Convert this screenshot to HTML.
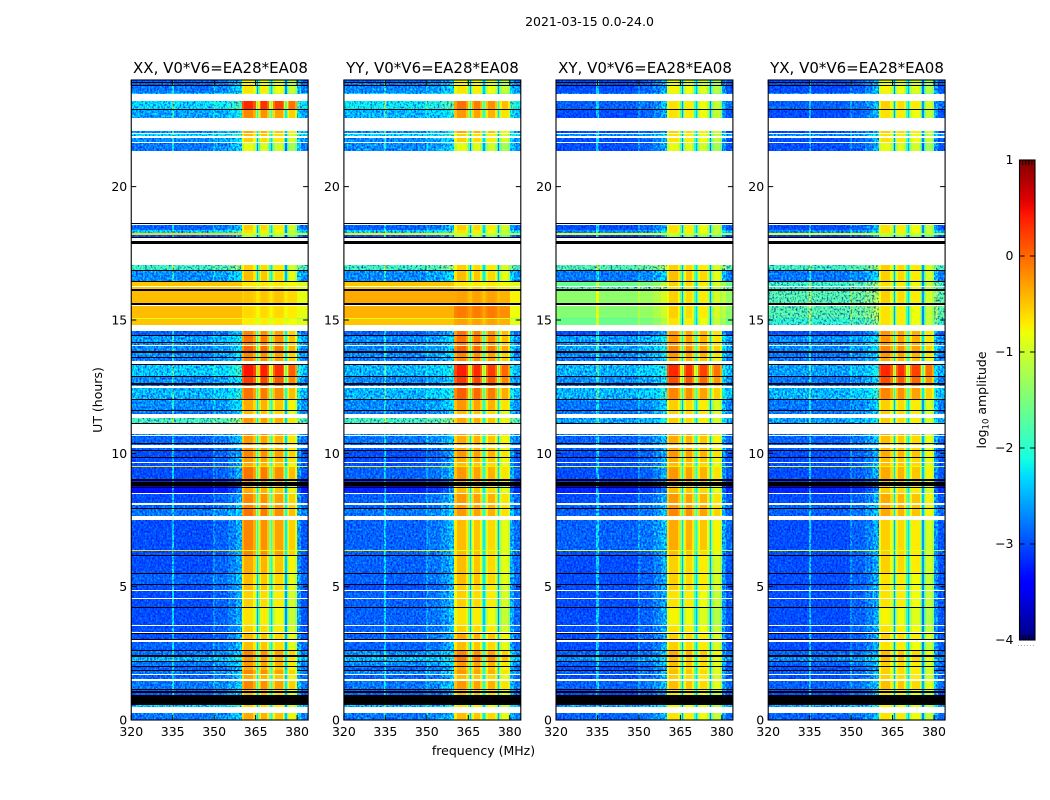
<!DOCTYPE html>
<html>
<head>
<meta charset="utf-8">
<title>2021-03-15 0.0-24.0</title>
<style>
html,body{margin:0;padding:0;background:#fff;}
svg{display:block;}
text{font-family:"DejaVu Sans","Liberation Sans",sans-serif;fill:#000;}
</style>
</head>
<body>
<svg id="fig" xmlns="http://www.w3.org/2000/svg" width="1050" height="800" viewBox="0 0 1050 800">
  <defs>
    <linearGradient id="jetGrad" x1="0" y1="1" x2="0" y2="0"></linearGradient>
    <filter id="speckle" filterUnits="userSpaceOnUse" x="0" y="0" width="1050" height="800" color-interpolation-filters="sRGB">
      <feTurbulence type="fractalNoise" baseFrequency="0.55 0.45" numOctaves="2" seed="3" result="n"/>
      <feColorMatrix in="n" type="matrix" values="1 0 0 0 0 1 0 0 0 0 0 0 0 0 0.5 0 0 0 0 1" result="g"/>
      <feComposite in="SourceGraphic" in2="g" operator="arithmetic" k1="2.6" k2="-0.3" k3="0" k4="0"/>
    </filter>
  </defs>
  <rect x="0" y="0" width="1050" height="800" fill="#fff"/>
  <text x="589.5" y="26" font-size="12.5" text-anchor="middle">2021-03-15 0.0-24.0</text>
  <text x="220.5" y="73" font-size="15" text-anchor="middle">XX, V0*V6=EA28*EA08</text>
  <text x="432.5" y="73" font-size="15" text-anchor="middle">YY, V0*V6=EA28*EA08</text>
  <text x="645" y="73" font-size="15" text-anchor="middle">XY, V0*V6=EA28*EA08</text>
  <text x="857" y="73" font-size="15" text-anchor="middle">YX, V0*V6=EA28*EA08</text>
  <text x="483.5" y="755" font-size="12.5" text-anchor="middle">frequency (MHz)</text>
  <text transform="translate(102,400) rotate(-90)" font-size="12.5" text-anchor="middle">UT (hours)</text>
  <text transform="translate(986,400) rotate(-90)" font-size="12.5" text-anchor="middle">log<tspan font-size="8.5" dy="2.5">10</tspan><tspan dy="-2.5"> amplitude</tspan></text>
  <g id="panels"></g>
  <g id="colorbar"></g>
</svg>
<script>
// UT bands, top to bottom: [top edge in hours, kind] d=data, k=black (zero) row, w=flagged (blank)
const rowBands = [
[24,'d'],[23.925,'k'],[23.89,'d'],[23.81,'k'],[23.775,'d'],[23.51,'d'],[23.475,'w'],[23.21,'d'],[22.91,'k'],[22.875,'d'],
[22.575,'w'],[22.09,'d'],[22.01,'w'],[21.975,'d'],[21.9,'w'],[21.84,'d'],[21.675,'w'],[21.64,'d'],[21.34,'w'],[18.64,'k'],
[18.6,'w'],[18.56,'d'],[18.375,'d'],[18.26,'d'],[18.19,'d'],[18.11,'k'],[18.075,'w'],[17.98,'k'],[17.85,'w'],[17.06,'d'],
[16.875,'k'],[16.82,'d'],[16.48,'k'],[16.44,'d'],[16.275,'w'],[16.24,'d'],[16.18,'k'],[16.14,'d'],[16.11,'k'],[16.07,'d'],
[15.64,'k'],[15.58,'w'],[15.525,'d'],[15.075,'d'],[15.04,'d'],[14.81,'w'],[14.59,'d'],[14.44,'k'],[14.4,'d'],[14.16,'k'],
[14.12,'d'],[14.06,'w'],[14.025,'d'],[13.82,'k'],[13.78,'d'],[13.63,'k'],[13.59,'d'],[13.46,'w'],[13.35,'k'],[13.31,'d'],
[12.9,'k'],[12.86,'d'],[12.62,'k'],[12.58,'d'],[12.525,'w'],[12.45,'d'],[12.04,'k'],[12,'d'],[11.61,'k'],[11.57,'d'],
[11.49,'w'],[11.325,'d'],[11.14,'k'],[11.1,'w'],[10.74,'d'],[10.69,'w'],[10.65,'d'],[10.39,'k'],[10.35,'d'],[10.31,'w'],
[10.2,'d'],[10.125,'k'],[10.09,'d'],[9.88,'k'],[9.84,'d'],[9.66,'w'],[9.62,'d'],[9.525,'d'],[9.47,'d'],[9.02,'k'],
[8.98,'d'],[8.925,'k'],[8.79,'d'],[8.74,'k'],[8.7,'d'],[8.53,'w'],[8.49,'d'],[8.12,'w'],[8.08,'d'],[7.95,'k'],
[7.91,'d'],[7.65,'w'],[7.5,'d'],[6.375,'d'],[6.34,'d'],[6.19,'k'],[6.15,'d'],[5.53,'k'],[5.475,'d'],[5.1,'k'],
[5.06,'d'],[4.875,'w'],[4.82,'d'],[4.575,'w'],[4.54,'d'],[4.24,'k'],[4.2,'d'],[3.56,'w'],[3.51,'d'],[3.3,'w'],
[3.26,'k'],[3.225,'d'],[3.04,'k'],[3,'w'],[2.925,'d'],[2.625,'k'],[2.59,'d'],[2.42,'k'],[2.38,'d'],[2.23,'k'],
[2.19,'d'],[2.025,'k'],[1.99,'d'],[1.89,'k'],[1.86,'d'],[1.74,'w'],[1.69,'d'],[1.52,'w'],[1.48,'d'],[1.18,'k'],
[1.125,'d'],[1.07,'k'],[1.01,'d'],[0.92,'k'],[0.56,'d'],[0.49,'w'],[0.26,'d'],[0,'end']
];
// Frequency channels (MHz edges), which level they follow (L=out of band, H=hot band), and their offsets in log10 amplitude
const chanEdges = [320,334.6,335.4,349.6,350.4,355,358,360,360.8,364.2,365,365.5,365.9,366.4,367,369.2,370,370.5,370.9,371.4,372,374.8,375.4,375.8,376.2,376.6,377.2,379.3,380,381.5,384];
const chanBase = ['L','L','L','L','L','L','L','H','H','H','H','H','H','H','H','H','H','H','H','H','H','H','H','H','H','H','H','H','L','L'];
const chanOffset = [0,0.6,0,0.3,0.1,0.25,0.45,0,0.25,0,-0.8,-1.7,-0.8,-0.1,0.2,-0.1,-1,-1.5,-1,-0.2,0.1,-0.2,-1,-1.8,-1,-0.45,-0.15,-0.45,0.35,0.05];
// Offsets used on the strong broadband rows, where the channel structure washes out
const chanOffsetBright = [0,0,0,0,0,0,0,-0.05,0,-0.05,-0.15,-0.2,-0.15,-0.05,0,-0.05,-0.15,-0.2,-0.15,-0.05,0,-0.05,-0.15,-0.2,-0.15,-0.1,-0.1,-0.1,-0.4,-0.4];
// Log10 amplitude per data row
const lowXX = [
-2.9,-2.9,-2.8,-2.3,-2.3,-2.6,-2.7,-2.3,-2.7,-2.8,
-2.9,-2.4,-0.6,-3.0,-1.9,-2.7,-0.5,-0.5,-0.5,-0.45,
-0.45,-0.9,-0.5,-2.9,-2.6,-2.7,-2.7,-2.7,-2.8,-2.4,
-2.7,-2.7,-2.5,-2.7,-2.8,-1.9,-2.7,-2.9,-2.9,-2.9,
-3.0,-3.0,-3.0,-0.6,-3.0,-3.2,-3.5,-3.3,-3.0,-2.9,
-2.8,-3.0,-0.6,-3.0,-3.0,-2.9,-3.0,-3.0,-3.0,-3.0,
-3.0,-3.0,-2.9,-2.8,-2.5,-2.8,-2.9,-2.8,-2.9,-2.8,
-2.9,-2.9,-2.4,-2.8];
const hotXX = [
-1.0,-1.0,-0.9,-1.1,0.1,-0.4,-0.6,-0.7,-0.8,-1.1,
-0.8,-0.9,-1.0,-1.4,-0.8,-0.7,-0.7,-0.6,-0.6,-0.5,
-0.6,-0.9,-0.7,-0.4,-0.3,-0.4,-0.2,-0.4,-0.4,0.2,
0.0,-0.2,-0.3,-0.6,-0.7,-0.5,-0.4,-0.5,-0.5,-0.5,
-0.4,-0.5,-0.6,-0.7,-0.3,-0.5,-0.7,-0.6,-0.4,-0.4,
-0.3,-0.4,-0.8,-0.4,-0.6,-0.7,-0.7,-0.8,-0.8,-0.9,
-0.8,-0.7,-0.7,-0.4,-0.5,-0.5,-0.6,-0.4,-0.6,-0.4,
-0.7,-0.7,-0.8,-0.6];
const lowYY = [
-2.9,-2.8,-2.7,-2.3,-2.2,-2.5,-2.7,-2.3,-2.7,-2.7,
-2.9,-2.4,-0.7,-3.0,-1.9,-2.7,-0.5,-0.5,-0.5,-0.35,
-0.4,-0.9,-0.5,-2.9,-2.7,-2.7,-2.7,-2.7,-2.8,-2.5,
-2.7,-2.7,-2.5,-2.7,-2.8,-1.9,-2.7,-2.8,-2.9,-2.9,
-3.0,-3.0,-3.0,-0.7,-2.9,-3.1,-3.4,-3.2,-2.9,-2.9,
-2.8,-2.9,-0.7,-2.9,-2.9,-2.9,-3.0,-2.9,-2.9,-2.9,
-2.9,-2.9,-2.9,-2.7,-2.5,-2.7,-2.9,-2.7,-2.9,-2.8,
-2.9,-2.9,-2.5,-2.8];
const hotYY = [
-1.0,-1.0,-0.9,-1.1,-0.3,-0.5,-0.6,-0.8,-0.8,-1.1,
-0.8,-0.9,-1.0,-1.4,-0.8,-0.7,-0.7,-0.6,-0.6,-0.3,
-0.1,-0.9,-0.3,-0.3,-0.3,-0.4,-0.2,-0.4,-0.4,0.15,
0.0,-0.2,-0.2,-0.5,-0.7,-0.6,-0.5,-0.6,-0.6,-0.6,
-0.5,-0.6,-0.7,-0.7,-0.5,-0.6,-0.8,-0.7,-0.5,-0.5,
-0.5,-0.7,-0.9,-0.7,-0.7,-0.7,-0.8,-0.8,-0.8,-0.9,
-0.8,-0.6,-0.7,-0.4,-0.3,-0.5,-0.6,-0.5,-0.7,-0.5,
-0.7,-0.7,-0.9,-0.7];
const lowXY = [
-3.0,-3.0,-3.0,-2.7,-2.9,-3.0,-3.0,-2.7,-3.0,-3.0,
-3.0,-2.7,-0.8,-3.1,-1.8,-2.8,-1.6,-1.8,-1.8,-1.4,
-1.45,-1.7,-1.6,-3.0,-2.6,-2.7,-2.6,-2.7,-2.8,-2.5,
-2.7,-2.7,-2.5,-2.8,-2.8,-2.6,-2.8,-2.9,-2.9,-2.9,
-3.0,-3.0,-3.0,-0.8,-3.0,-3.1,-3.4,-3.2,-3.0,-2.9,
-2.9,-2.9,-0.8,-3.0,-3.0,-3.0,-3.0,-3.0,-3.0,-3.0,
-3.0,-3.0,-3.0,-2.9,-2.7,-2.9,-3.0,-2.9,-3.0,-2.9,
-3.0,-3.0,-2.6,-2.9];
const hotXY = [
-1.1,-1.1,-1.0,-1.2,-0.9,-0.9,-0.8,-0.9,-0.9,-1.1,
-0.9,-0.9,-1.0,-1.5,-0.8,-0.7,-0.8,-0.9,-0.9,-0.8,
-0.8,-0.9,-0.9,-0.5,-0.5,-0.5,-0.4,-0.5,-0.6,0.1,
-0.1,-0.3,-0.4,-0.8,-0.8,-0.8,-0.5,-0.6,-0.6,-0.6,
-0.5,-0.6,-0.7,-0.8,-0.5,-0.6,-0.8,-0.7,-0.5,-0.5,
-0.4,-0.6,-0.9,-0.7,-0.8,-0.8,-0.8,-0.9,-0.9,-1.0,
-0.9,-0.8,-0.8,-0.6,-0.7,-0.7,-0.8,-0.7,-0.8,-0.7,
-0.9,-0.9,-1.0,-0.9];
const lowYX = [
-3.0,-3.0,-3.0,-2.7,-2.9,-3.0,-3.0,-2.7,-3.0,-3.0,
-3.0,-2.7,-0.8,-3.1,-1.9,-2.8,-1.9,-2.0,-2.0,-1.8,
-1.8,-1.9,-2.0,-3.0,-2.7,-2.7,-2.7,-2.8,-2.8,-2.6,
-2.8,-2.7,-2.5,-2.8,-2.8,-2.6,-2.8,-2.9,-2.9,-2.9,
-3.0,-3.0,-3.0,-0.8,-3.0,-3.1,-3.4,-3.2,-3.0,-2.9,
-2.9,-3.0,-0.8,-3.0,-3.0,-3.0,-3.0,-3.0,-3.0,-3.0,
-3.0,-3.0,-3.0,-2.9,-2.7,-2.9,-3.0,-2.9,-3.0,-2.9,
-3.0,-3.0,-2.6,-2.9];
const hotYX = [
-1.1,-1.1,-1.0,-1.2,-0.8,-0.9,-0.8,-0.9,-0.9,-1.1,
-0.9,-0.9,-1.0,-1.5,-0.8,-0.8,-0.9,-0.9,-0.9,-0.8,
-0.9,-0.9,-0.9,-0.5,-0.5,-0.5,-0.4,-0.5,-0.6,0.1,
-0.1,-0.3,-0.4,-0.8,-0.8,-0.8,-0.6,-0.7,-0.7,-0.7,
-0.6,-0.7,-0.7,-0.8,-0.6,-0.7,-0.8,-0.8,-0.6,-0.6,
-0.6,-0.8,-0.9,-0.8,-0.8,-0.9,-0.9,-0.9,-0.9,-1.0,
-0.9,-0.8,-0.9,-0.7,-0.7,-0.8,-0.8,-0.8,-0.8,-0.7,
-0.9,-0.9,-1.0,-0.9];
const panelLow = [lowXX, lowYY, lowXY, lowYX];
const panelHot = [hotXX, hotYY, hotXY, hotYX];
const panelKeys = ['xx', 'yy', 'xy', 'yx'];
const xTickValues = [320, 335, 350, 365, 380];
const yTickValues = [0, 5, 10, 15, 20];
const cbTickValues = [1, 0, -1, -2, -3, -4];
const cbTickLabels = ['1', '0', '\u22121', '\u22122', '\u22123', '\u22124'];
const cbMinorFractions = [0.2, 0.4, 0.6, 0.8];

const SVGNS = 'http://www.w3.org/2000/svg';
const PANEL_W = 176.9, TOP = 80, BOTTOM = 720;
const PANEL_LEFT = [131.25, 343.9, 556, 768.2];
const F_MIN = 320, F_MAX = 384, UT_MAX = 24, V_MIN = -4, V_MAX = 1;
const CB_X0 = 1019.5, CB_X1 = 1035, CB_Y0 = 160, CB_Y1 = 640;

function xScale(panel, f) { return PANEL_LEFT[panel] + (f - F_MIN) / (F_MAX - F_MIN) * PANEL_W; }
function yScale(h) { return TOP + (UT_MAX - h) / UT_MAX * (BOTTOM - TOP); }
function cbScale(v) { return CB_Y1 - (v - V_MIN) / (V_MAX - V_MIN) * (CB_Y1 - CB_Y0); }
function lerp(x, x0, y0, x1, y1) { return y0 + (y1 - y0) * (x - x0) / (x1 - x0); }
function ramp(x, pts) {
  if (x <= pts[0][0]) return pts[0][1];
  for (let i = 1; i < pts.length; i++) {
    if (x <= pts[i][0]) return lerp(x, pts[i - 1][0], pts[i - 1][1], pts[i][0], pts[i][1]);
  }
  return pts[pts.length - 1][1];
}
function jet(v) {
  const t = Math.max(0, Math.min(1, (v - V_MIN) / (V_MAX - V_MIN)));
  const r = ramp(t, [[0.35, 0], [0.66, 1], [0.89, 1], [1, 0.5]]);
  const g = ramp(t, [[0.125, 0], [0.375, 1], [0.64, 1], [0.91, 0]]);
  const b = ramp(t, [[0, 0.5], [0.11, 1], [0.34, 1], [0.65, 0]]);
  return 'rgb(' + Math.round(r * 255) + ',' + Math.round(g * 255) + ',' + Math.round(b * 255) + ')';
}
function mk(parent, tag, attrs) {
  const el = document.createElementNS(SVGNS, tag);
  for (const k in attrs) el.setAttribute(k, attrs[k]);
  parent.appendChild(el);
  return el;
}

const panelsRoot = document.getElementById('panels');
panelLow.forEach(function (lows, p) {
  const hots = panelHot[p];
  const key = panelKeys[p];
  const left = PANEL_LEFT[p];
  const panel = mk(panelsRoot, 'g', {});
  
  
  const noisy = mk(panel, 'g', { filter: 'url(#speckle)', 'shape-rendering': 'crispEdges' });
  
  
  const clean = mk(panel, 'g', { 'shape-rendering': 'crispEdges' });
  
  

  let dataRow = 0;
  for (let r = 0; r < rowBands.length - 1; r++) {
    const kind = rowBands[r][1];
    const y0 = Math.round(yScale(rowBands[r][0]));
    const y1 = Math.max(y0 + 1, Math.round(yScale(rowBands[r + 1][0])));
    if (kind === 'w') continue;
    if (kind === 'k') {
      const bar = mk(clean, 'rect', { x: left, y: y0, width: PANEL_W, height: y1 - y0, fill: '#000' });
      
      
      continue;
    }
    const low = lows[dataRow];
    const hot = hots[dataRow];
    dataRow++;
    const offsets = low > -1.3 ? chanOffsetBright : chanOffset;
    for (let c = 0; c < offsets.length; c++) {
      const isLow = chanBase[c] === 'L';
      const value = (isLow ? low : hot) + offsets[c];
      const x0 = Math.round(xScale(p, chanEdges[c]));
      const x1 = Math.round(xScale(p, chanEdges[c + 1]));
      if (x1 <= x0) continue;
      const target = (isLow && low < -1.7) ? noisy : clean;
      const cell = mk(target, 'rect', { x: x0, y: y0, width: x1 - x0, height: y1 - y0, fill: jet(value) });
      
      
    }
  }

  const frame = mk(panel, 'rect', { x: left, y: TOP, width: PANEL_W, height: BOTTOM - TOP, fill: 'none', stroke: '#000', 'stroke-width': 1.1 });
  
  

  xTickValues.forEach(function (f) {
    const x = xScale(p, f);
    const ticks = mk(panel, 'path', { d: 'M' + x + ' ' + BOTTOM + 'v-5M' + x + ' ' + TOP + 'v5', stroke: '#000', 'stroke-width': 1, fill: 'none' });
    
    
    const label = mk(panel, 'text', { x: x, y: 736, 'font-size': 12.5, 'text-anchor': 'middle' });
    label.textContent = String(f);
    
    
  });
  yTickValues.forEach(function (h) {
    const y = yScale(h);
    const ticks = mk(panel, 'path', { d: 'M' + left + ' ' + y + 'h5M' + (left + PANEL_W) + ' ' + y + 'h-5', stroke: '#000', 'stroke-width': 1, fill: 'none' });
    
    
    const label = mk(panel, 'text', { x: left - 4, y: y + 4.5, 'font-size': 12.5, 'text-anchor': 'end' });
    label.textContent = String(h);
    
    
  });
});

// Colorbar
const grad = document.getElementById('jetGrad');
for (let i = 0; i <= 50; i++) {
  const t = i / 50;
  mk(grad, 'stop', { offset: t, 'stop-color': jet(V_MIN + t * (V_MAX - V_MIN)) });
}
const cb = document.getElementById('colorbar');
const cbFill = mk(cb, 'rect', { x: CB_X0, y: CB_Y0, width: CB_X1 - CB_X0, height: CB_Y1 - CB_Y0, fill: 'url(#jetGrad)' });


const cbFrame = mk(cb, 'rect', { x: CB_X0, y: CB_Y0, width: CB_X1 - CB_X0, height: CB_Y1 - CB_Y0, fill: 'none', stroke: '#000', 'stroke-width': 1.1 });


cbTickValues.forEach(function (v, i) {
  const y = cbScale(v);
  const t = mk(cb, 'path', { d: 'M' + CB_X0 + ' ' + y + 'h5M' + CB_X1 + ' ' + y + 'h-5', stroke: '#000', 'stroke-width': 1, fill: 'none' });
  
  
  const label = mk(cb, 'text', { x: 1013.5, y: y + 4, 'font-size': 12.5, 'text-anchor': 'end' });
  label.textContent = cbTickLabels[i];
  
  
});
cbMinorFractions.forEach(function (fr) {
  const x = CB_X0 + fr * (CB_X1 - CB_X0);
  const t = mk(cb, 'path', { d: 'M' + x + ' ' + CB_Y0 + 'v5M' + x + ' ' + CB_Y1 + 'v-5', stroke: '#000', 'stroke-width': 1, fill: 'none' });
  
  
});
const dots = mk(cb, 'path', { d: 'M1018 645.5H1035', stroke: '#aaa', 'stroke-width': 1, 'stroke-dasharray': '1 2', fill: 'none' });


</script>
</body>
</html>
